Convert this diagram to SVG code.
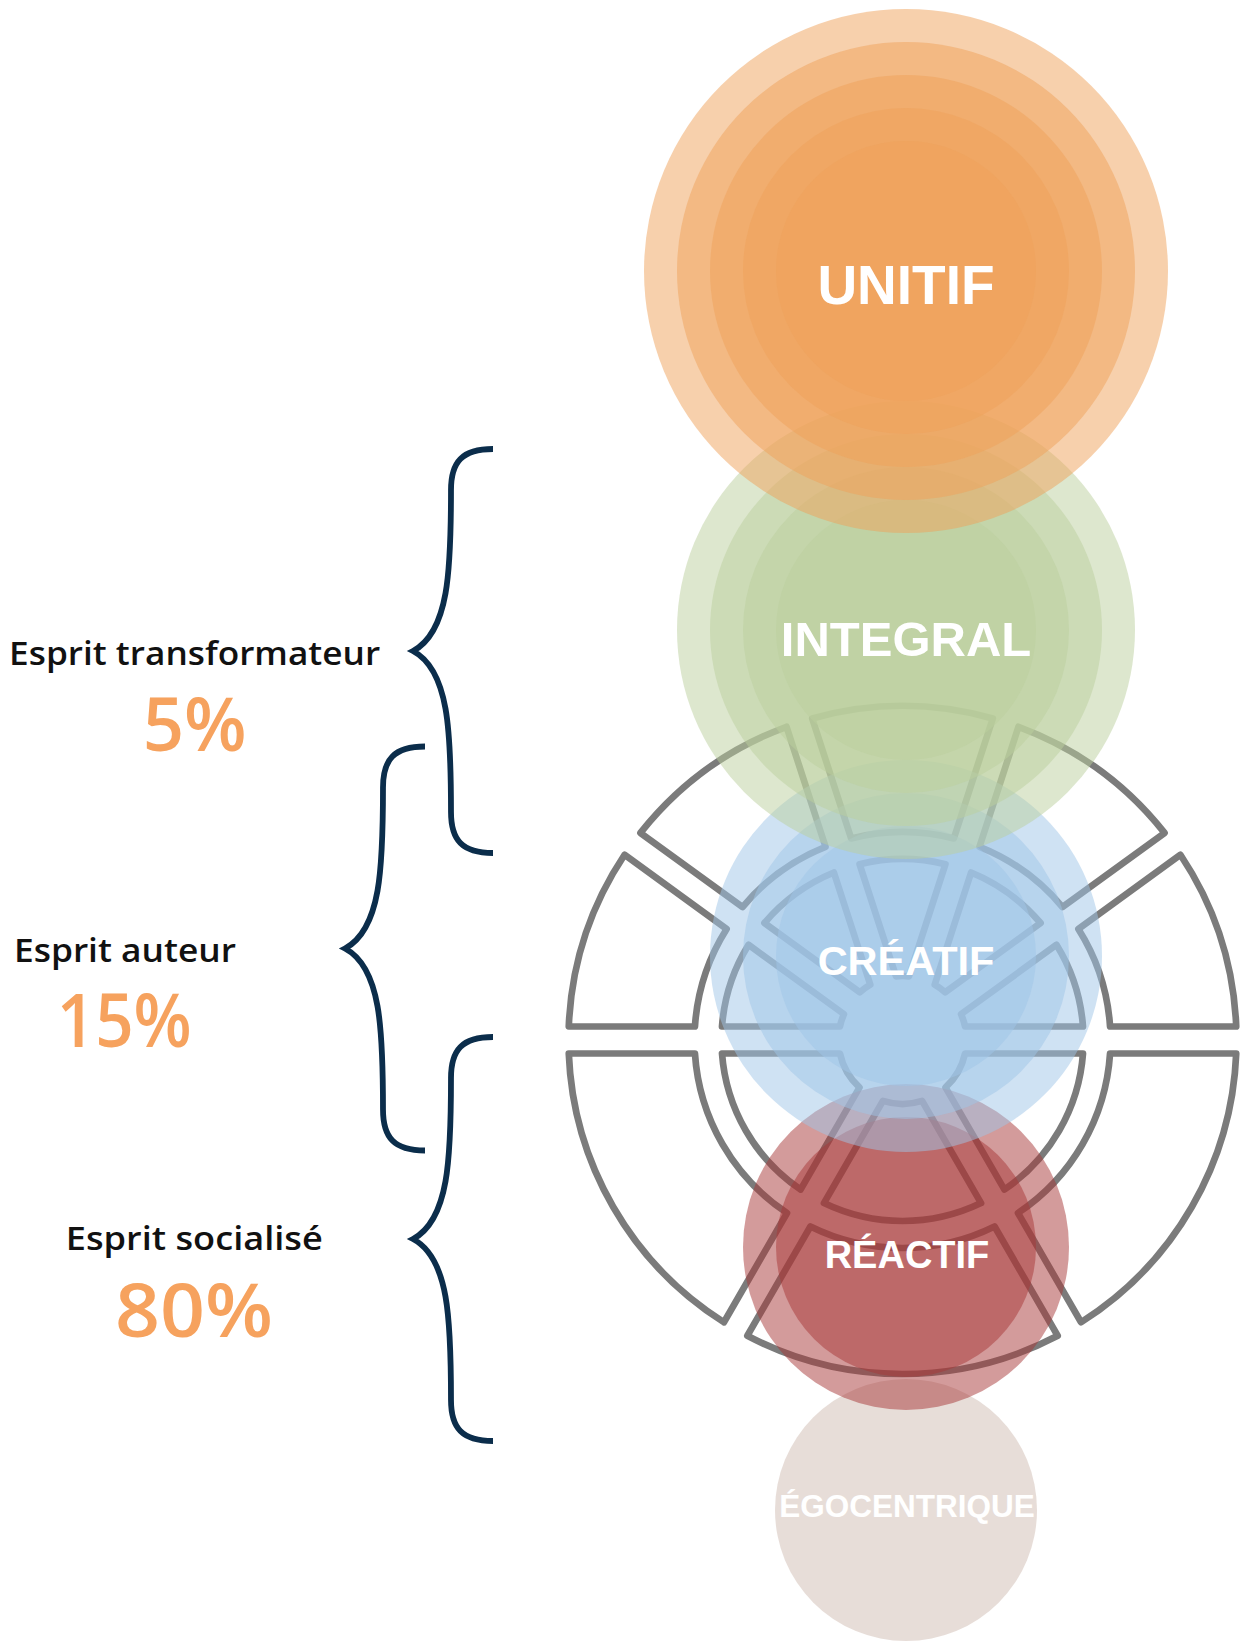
<svg xmlns="http://www.w3.org/2000/svg" width="1240" height="1641" viewBox="0 0 1240 1641">
<style>
.seg{fill:none;stroke:#7b7b7b;stroke-width:6.7;stroke-linejoin:round}
.or{fill:#F0A25A;fill-opacity:.5}
.gr{fill:#BBCF9D;fill-opacity:.5}
.bl{fill:#9FC5E7;fill-opacity:.5}
.rd{fill:#A73737;fill-opacity:.5}
.eg{fill:#CFBBB1;fill-opacity:.5}
.lbl{font-family:"Liberation Sans",Arial,Helvetica,sans-serif;font-weight:bold;fill:#fff;text-anchor:middle}
.nm{font-family:"Open Sans","Noto Sans","Liberation Sans",sans-serif;font-weight:600;fill:#111;text-anchor:middle;font-size:32px}
.pc{font-family:"Open Sans","Noto Sans","Liberation Sans",sans-serif;font-weight:600;fill:#F6A25E;text-anchor:middle;font-size:74px}
.brace{fill:none;stroke:#0B2D4B;stroke-width:5.8;stroke-linecap:butt}
</style>
<defs>
<path id="bracePath" d="M493,449 C462,449 451,462 451,490 C451,570 449,632 413,651 C449,670 451,732 451,812 C451,840 462,853 493,853"/>
</defs>
<rect width="1240" height="1641" fill="#fff"/>

<g id="wheel" transform="translate(-0.5,0)">
<path class="seg" d="M1236.73,1026.5 A334,334 0 0 0 1180.92,854.75 L1078.86,928.92 A208,208 0 0 1 1110.56,1026.5 Z"/>
<path class="seg" d="M1165.06,832.92 A334,334 0 0 0 1018.97,726.77 L979.98,846.77 A208,208 0 0 1 1062.99,907.08 Z"/>
<path class="seg" d="M993.29,718.43 A334,334 0 0 0 812.71,718.43 L851.7,838.42 A208,208 0 0 1 954.3,838.42 Z"/>
<path class="seg" d="M787.03,726.77 A334,334 0 0 0 640.94,832.92 L743.01,907.08 A208,208 0 0 1 826.02,846.77 Z"/>
<path class="seg" d="M625.08,854.75 A334,334 0 0 0 569.27,1026.5 L695.44,1026.5 A208,208 0 0 1 727.14,928.92 Z"/>
<path class="seg" d="M1083.5,1026.5 A181,181 0 0 0 1056.96,944.83 L961.55,1014.15 A64,64 0 0 1 965.56,1026.5 Z"/>
<path class="seg" d="M1041.09,922.99 A181,181 0 0 0 971.62,872.51 L935.17,984.67 A64,64 0 0 1 945.68,992.31 Z"/>
<path class="seg" d="M945.94,864.16 A181,181 0 0 0 860.06,864.16 L896.51,976.33 A64,64 0 0 1 909.49,976.33 Z"/>
<path class="seg" d="M834.38,872.51 A181,181 0 0 0 764.91,922.99 L860.32,992.31 A64,64 0 0 1 870.83,984.67 Z"/>
<path class="seg" d="M749.04,944.83 A181,181 0 0 0 722.5,1026.5 L840.44,1026.5 A64,64 0 0 1 844.45,1014.15 Z"/>
<path class="seg" d="M1236.73,1053.5 A334,334 0 0 1 1081.56,1322.27 L1018.47,1213.01 A208,208 0 0 0 1110.56,1053.5 Z"/>
<path class="seg" d="M1058.18,1335.77 A334,334 0 0 1 747.82,1335.77 L810.91,1226.51 A208,208 0 0 0 995.09,1226.51 Z"/>
<path class="seg" d="M724.44,1322.27 A334,334 0 0 1 569.27,1053.5 L695.44,1053.5 A208,208 0 0 0 787.53,1213.01 Z"/>
<path class="seg" d="M1083.5,1053.5 A181,181 0 0 1 1004.94,1189.57 L945.97,1087.43 A64,64 0 0 0 965.56,1053.5 Z"/>
<path class="seg" d="M981.56,1203.06 A181,181 0 0 1 824.44,1203.06 L883.41,1100.93 A64,64 0 0 0 922.59,1100.93 Z"/>
<path class="seg" d="M801.06,1189.57 A181,181 0 0 1 722.5,1053.5 L840.44,1053.5 A64,64 0 0 0 860.03,1087.43 Z"/>
</g>

<g id="node-egocentrique">
<circle class="eg" cx="906" cy="1510" r="131"/>
</g>
<g id="node-reactif">
<circle class="rd" cx="906" cy="1247" r="163"/>
<circle class="rd" cx="906" cy="1247" r="130"/>
</g>
<g id="node-creatif">
<circle class="bl" cx="906" cy="956" r="196"/>
<circle class="bl" cx="906" cy="956" r="163"/>
<circle class="bl" cx="906" cy="956" r="130"/>
</g>
<g id="node-integral">
<circle class="gr" cx="906" cy="630" r="229"/>
<circle class="gr" cx="906" cy="630" r="196"/>
<circle class="gr" cx="906" cy="630" r="163"/>
<circle class="gr" cx="906" cy="630" r="130"/>
</g>
<g id="node-unitif">
<circle class="or" cx="906" cy="271" r="262"/>
<circle class="or" cx="906" cy="271" r="229"/>
<circle class="or" cx="906" cy="271" r="196"/>
<circle class="or" cx="906" cy="271" r="163"/>
<circle class="or" cx="906" cy="271" r="130"/>
</g>

<g id="labels-levels">
<text class="lbl" x="906" y="303.5" font-size="55">UNITIF</text>
<text class="lbl" x="906" y="656" font-size="49">INTEGRAL</text>
<text class="lbl" x="906" y="975" font-size="41.5">CRÉATIF</text>
<text class="lbl" x="907" y="1268" font-size="38">RÉACTIF</text>
<text class="lbl" x="907" y="1517" font-size="31.5">ÉGOCENTRIQUE</text>
</g>

<g id="connectors">
<use href="#bracePath" class="brace"/>
<use href="#bracePath" class="brace" transform="translate(-68,297.5)"/>
<use href="#bracePath" class="brace" transform="translate(0,588)"/>
</g>

<g id="node-transformateur">
<text class="nm" x="194.6" y="665" textLength="371" lengthAdjust="spacingAndGlyphs">Esprit transformateur</text>
<text class="pc" x="194.7" y="750.7" textLength="104" lengthAdjust="spacingAndGlyphs">5%</text>
</g>
<g id="node-auteur">
<text class="nm" x="125" y="962" textLength="222" lengthAdjust="spacingAndGlyphs">Esprit auteur</text>
<text class="pc" x="124.2" y="1046.7" textLength="135" lengthAdjust="spacingAndGlyphs">15%</text>
</g>
<g id="node-socialise">
<text class="nm" x="194.3" y="1250" textLength="257" lengthAdjust="spacingAndGlyphs">Esprit socialisé</text>
<text class="pc" x="194" y="1337" textLength="158" lengthAdjust="spacingAndGlyphs">80%</text>
</g>
</svg>
